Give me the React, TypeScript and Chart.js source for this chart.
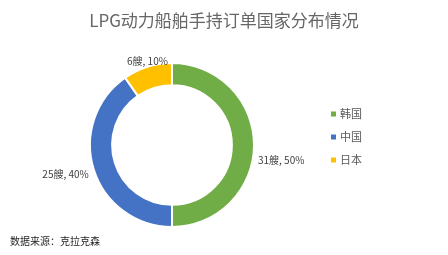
import React, { useEffect, useRef } from "react";
import { Chart, registerables } from "chart.js";

Chart.register(...registerables);

const categories = ["韩国", "中国", "日本"];
const values = [31, 25, 6];
const colors = ["#70AD47", "#4472C4", "#FFC000"];
const unit = "艘";
const titleText = "LPG动力船舶手持订单国家分布情况";
const sourceText = "数据来源：克拉克森";

const labelOffsets = [
  { dx: 4, dy: 15, align: "left" },
  { dx: -5, dy: 5, align: "right" },
  { dx: 0, dy: -6, align: "center" },
];

const FONT = "'Noto Sans CJK SC', 'Noto Sans', sans-serif";

export default function App() {
  const ref = useRef<HTMLCanvasElement | null>(null);
  useEffect(() => {
    if (!ref.current) return;
    const total = values.reduce((a, b) => a + b, 0);
    const overlay = {
      id: "overlay",
      afterDraw(chart: any) {
        const ctx = chart.ctx;
        ctx.save();
        // title
        ctx.fillStyle = "#666666";
        ctx.font = `17px ${FONT}`;
        ctx.textAlign = "center";
        ctx.textBaseline = "middle";
        ctx.fillText(titleText, 224, 21);
        // data labels
        const meta = chart.getDatasetMeta(0);
        ctx.font = `10px ${FONT}`;
        meta.data.forEach((arc: any, i: number) => {
          const { x, y, startAngle, endAngle, outerRadius } = arc.getProps(
            ["x", "y", "startAngle", "endAngle", "outerRadius"],
            true
          );
          const mid = (startAngle + endAngle) / 2;
          const px = x + Math.cos(mid) * outerRadius + labelOffsets[i].dx;
          const py = y + Math.sin(mid) * outerRadius + labelOffsets[i].dy;
          ctx.textAlign = labelOffsets[i].align as CanvasTextAlign;
          ctx.fillStyle = "#404040";
          const pct = Math.round((values[i] / total) * 100);
          ctx.fillText(`${values[i]}${unit}, ${pct}%`, px, py);
        });
        // legend
        ctx.font = `11px ${FONT}`;
        ctx.textAlign = "left";
        categories.forEach((c, i) => {
          const ly = 114 + i * 23;
          ctx.fillStyle = colors[i];
          ctx.fillRect(331, ly - 2.5, 5, 5);
          ctx.fillStyle = "#595959";
          ctx.fillText(c, 340, ly);
        });
        // source
        ctx.font = `10px ${FONT}`;
        ctx.fillStyle = "#262626";
        ctx.fillText(sourceText, 10, 241);
        ctx.restore();
      },
    };
    const chart = new Chart(ref.current, {
      type: "doughnut",
      data: {
        labels: categories,
        datasets: [
          {
            data: values,
            backgroundColor: colors,
            borderColor: "#ffffff",
            borderWidth: 2,
          },
        ],
      },
      options: {
        animation: false,
        responsive: false,
        cutout: "73%",
        layout: { padding: { left: 89, right: 193, top: 62, bottom: 27 } },
        plugins: {
          legend: { display: false },
          title: { display: false },
          tooltip: { enabled: false },
        },
      },
      plugins: [overlay],
    });
    return () => chart.destroy();
  }, []);
  return (
    <div style={{ position: "absolute", left: 0, top: 0, width: 448, height: 255, background: "#fff" }}>
      <canvas ref={ref} width={448} height={255} style={{ width: 448, height: 255 }} />
    </div>
  );
}
